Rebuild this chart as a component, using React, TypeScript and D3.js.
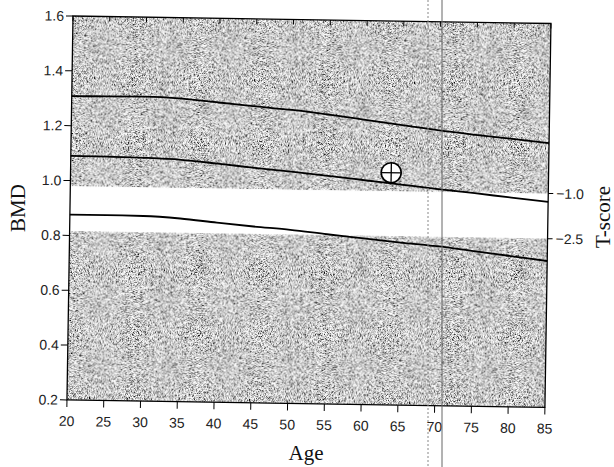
import React from "react";
import * as d3 from "d3";

// reference curves (age in years, BMD in g/cm2)
const ages = [20, 25, 30, 35, 40, 45, 50, 55, 60, 65, 70, 75, 80, 85];
const upperBMD = [1.308, 1.309, 1.31, 1.305, 1.293, 1.281, 1.27, 1.255, 1.238, 1.221, 1.204, 1.19, 1.177, 1.164];
const meanBMD = [1.09, 1.089, 1.087, 1.082, 1.07, 1.057, 1.045, 1.032, 1.018, 1.004, 0.99, 0.977, 0.963, 0.95];
const lowerBMD = [0.876, 0.876, 0.875, 0.868, 0.855, 0.843, 0.833, 0.819, 0.806, 0.793, 0.782, 0.766, 0.75, 0.734];

const bmdTicks = [0.2, 0.4, 0.6, 0.8, 1.0, 1.2, 1.4, 1.6];
const tScoreTicks = [-1.0, -2.5];
const youngMean = 1.09;
const youngSD = 0.11;

const patient = { age: 63.6, bmd: 1.047 };

const width = 614,
  height = 467;
const x0 = 73,
  x1 = 551,
  y0 = 16,
  y1 = 400;
// the scanned sheet sits a little crooked
const tilt = 0.9;

const sans = "'Liberation Sans', Arial, sans-serif";
const serif = "'Liberation Serif', 'Times New Roman', serif";

const App = () => {
  const x = d3.scaleLinear().domain([20, 85]).range([x0, x1]);
  const y = d3.scaleLinear().domain([0.2, 1.6]).range([y1, y0]);
  const tToBmd = (t: number) => youngMean + youngSD * t;
  const fmt = d3.format(".1f");

  const line = d3
    .line<number>()
    .x((_, i) => x(ages[i]))
    .y((d) => y(d))
    .curve(d3.curveMonotoneX);

  const bandTop = y(tToBmd(-1.0));
  const bandBottom = y(tToBmd(-2.5));
  const px = x(patient.age);
  const py = y(patient.bmd);
  const r = 10;

  return (
    <svg width={width} height={height} style={{ position: "absolute", left: 0, top: 0 }}>
      <defs>
        <filter id="grain" x="0" y="0" width="1" height="1">
          <feTurbulence type="fractalNoise" baseFrequency="1.6" numOctaves={1} seed={4} result="n" />
          <feColorMatrix
            in="n"
            type="matrix"
            values="3 0 0 0 -0.92  3 0 0 0 -0.92  3 0 0 0 -0.92  0 0 0 0 1"
            result="g"
          />
          <feComposite in="g" in2="SourceGraphic" operator="in" />
        </filter>
      </defs>
      <rect width={width} height={height} fill="#fff" />

      <g transform={`rotate(${tilt}, ${x0}, ${y0})`}>
        {/* shaded zones */}
        <rect x={x0} y={y0} width={x1 - x0} height={bandTop - y0} fill="#a0a0a0" filter="url(#grain)" />
        <rect x={x0} y={bandBottom} width={x1 - x0} height={y1 - bandBottom} fill="#9a9a9a" filter="url(#grain)" />

        {[upperBMD, meanBMD, lowerBMD].map((s, i) => (
          <path key={i} d={line(s) || ""} fill="none" stroke="#000" strokeWidth={1.8} />
        ))}

        {/* frame */}
        <rect x={x0} y={y0} width={x1 - x0} height={y1 - y0} fill="none" stroke="#000" strokeWidth={1.3} />

        {/* left axis */}
        <g fontFamily={sans} fontSize={14} fill="#222">
          {bmdTicks.map((t) => (
            <g key={t}>
              <line x1={x0 - 7} x2={x0} y1={y(t)} y2={y(t)} stroke="#000" />
              <text x={x0 - 9} y={y(t)} dy="0.35em" textAnchor="end">
                {fmt(t)}
              </text>
            </g>
          ))}
        </g>

        {/* bottom axis + inner ticks on top */}
        <g fontFamily={sans} fontSize={14} fill="#222">
          {ages.map((a) => (
            <g key={a}>
              <line x1={x(a)} x2={x(a)} y1={y1} y2={y1 + 7} stroke="#000" />
              <line x1={x(a)} x2={x(a)} y1={y0} y2={y0 + 5} stroke="#000" />
              <text x={x(a)} y={y1 + 26} textAnchor="middle">
                {a}
              </text>
            </g>
          ))}
        </g>

        {/* right T-score axis */}
        <g fontFamily={sans} fontSize={14} fill="#222">
          {tScoreTicks.map((t) => (
            <g key={t}>
              <line x1={x1} x2={x1 + 5} y1={y(tToBmd(t))} y2={y(tToBmd(t))} stroke="#000" />
              <text x={x1 + 8} y={y(tToBmd(t))} dy="0.35em" textAnchor="start">
                {fmt(t)}
              </text>
            </g>
          ))}
        </g>

        {/* patient marker */}
        <circle cx={px} cy={py} r={r} fill="#fff" stroke="#000" strokeWidth={1.6} />
        <line x1={px - r} x2={px + r} y1={py} y2={py} stroke="#000" strokeWidth={1.3} />
        <line x1={px} x2={px} y1={py - r} y2={py + r} stroke="#000" strokeWidth={1.3} />
      </g>

      {/* fold marks from the scan */}
      <line x1={428} x2={428} y1={0} y2={height} stroke="#888" strokeWidth={1} strokeDasharray="2 2" />
      <line x1={442} x2={442} y1={0} y2={height} stroke="#666" strokeWidth={1} />

      {/* titles */}
      <g fontFamily={serif} fontSize={21} fill="#111">
        <text x={306} y={460} textAnchor="middle">
          Age
        </text>
        <text transform="translate(25,208) rotate(-90)" textAnchor="middle">
          BMD
        </text>
        <text transform="translate(610,217) rotate(-90)" textAnchor="middle">
          T-score
        </text>
      </g>
    </svg>
  );
};

export default App;
